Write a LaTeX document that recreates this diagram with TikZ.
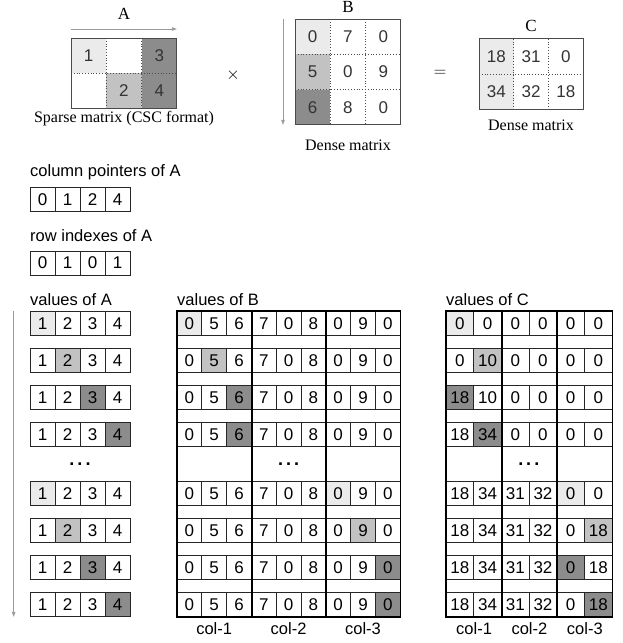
\documentclass[tikz,border=0pt]{standalone}
\usepackage{fontspec}
\setmainfont{Liberation Serif}
\setsansfont{Liberation Sans}
\usetikzlibrary{arrows.meta,positioning}
\definecolor{CellLight}{HTML}{EBEBEB}
\definecolor{CellMid}{HTML}{C2C2C2}
\definecolor{CellDark}{HTML}{8C8C8C}
\definecolor{EdgeGray}{HTML}{4A4A4A}
\definecolor{ArrowGray}{HTML}{9A9A9A}

\begin{document}
\begin{tikzpicture}[x=1pt, y=-1pt,
  mcell/.style={minimum width=35.3pt, minimum height=35.3pt, inner sep=0pt, outer sep=0pt, text=black!80, font=\sffamily\fontsize{17}{17}\selectfont},
  vcell/.style={draw=black!85, line width=0.7pt, minimum width=25pt, minimum height=24pt, inner sep=0pt, font=\sffamily\fontsize{17}{17}\selectfont},
  title/.style={font=\fontsize{17}{17}\selectfont, inner sep=0pt},
  caption/.style={font=\fontsize{16}{16}\selectfont, inner sep=0pt},
  lbl/.style={font=\sffamily\fontsize{16.5}{16.5}\selectfont, anchor=west, inner sep=0pt},
  collbl/.style={font=\sffamily\fontsize{16.5}{16.5}\selectfont, inner sep=0pt},
  dots/.style={font=\sffamily\bfseries\fontsize{18}{18}\selectfont, inner sep=0pt},
  group/.style={line width=1.8pt, black},
  grid/.style={dotted, line width=0.8pt, black!70},
  frame/.style={draw=EdgeGray, line width=1pt},
  dir/.style={-{Triangle[length=5pt,width=3.5pt]}, ArrowGray, line width=0.8pt}
]
\useasboundingbox (0,0) rectangle (623,643);

% sparse matrix A
\node[mcell, fill=CellLight] (A11) at (88.65,55.65) {1};
\node[mcell, right=0pt of A11] (A12) {};
\node[mcell, fill=CellDark, right=0pt of A12] (A13) {3};
\node[mcell, below=0pt of A11] (A21) {};
\node[mcell, fill=CellMid, right=0pt of A21] (A22) {2};
\node[mcell, fill=CellDark, right=0pt of A22] (A23) {4};
\draw[grid] (A11.north east) -- (A21.south east);
\draw[grid] (A12.north east) -- (A22.south east);
\draw[grid] (A11.south west) -- (A13.south east);
\draw[frame] (A11.north west) rectangle (A23.south east);
\draw[dir] ([yshift=9pt]A11.north west) -- ([yshift=9pt]A13.north east);
\node[title] (Atitle) at (124,14) {A};
\node[caption] (Acap) at (124,119) {Sparse matrix (CSC format)};
\node[title] (times) at (233,75) {$\times$};

% dense matrix B
\node[mcell, fill=CellLight] (B11) at (312.65,36.65) {0};
\node[mcell, right=0pt of B11] (B12) {7};
\node[mcell, right=0pt of B12] (B13) {0};
\node[mcell, fill=CellMid, below=0pt of B11] (B21) {5};
\node[mcell, right=0pt of B21] (B22) {0};
\node[mcell, right=0pt of B22] (B23) {9};
\node[mcell, fill=CellDark, below=0pt of B21] (B31) {6};
\node[mcell, right=0pt of B31] (B32) {8};
\node[mcell, right=0pt of B32] (B33) {0};
\draw[grid] (B11.north east) -- (B31.south east);
\draw[grid] (B12.north east) -- (B32.south east);
\draw[grid] (B11.south west) -- (B13.south east);
\draw[grid] (B21.south west) -- (B23.south east);
\draw[frame] (B11.north west) rectangle (B33.south east);
\draw[dir] ([xshift=-12pt]B11.north west) -- ([xshift=-12pt]B31.south west);
\node[title] (Btitle) at (348,7) {B};
\node[caption] (Bcap) at (348,145) {Dense matrix};
\node[title] (equals) at (440,73) {$=$};

% dense matrix C
\node[mcell, minimum width=34.7pt, fill=CellLight] (C11) at (496.35,56.5) {18};
\node[mcell, minimum width=34.7pt, right=0pt of C11] (C12) {31};
\node[mcell, minimum width=34.7pt, right=0pt of C12] (C13) {0};
\node[mcell, minimum width=34.7pt, fill=CellLight, below=0pt of C11] (C21) {34};
\node[mcell, minimum width=34.7pt, right=0pt of C21] (C22) {32};
\node[mcell, minimum width=34.7pt, right=0pt of C22] (C23) {18};
\draw[grid] (C11.north east) -- (C21.south east);
\draw[grid] (C12.north east) -- (C22.south east);
\draw[grid] (C11.south west) -- (C13.south east);
\draw[frame] (C11.north west) rectangle (C23.south east);
\node[title] (Ctitle) at (531,26) {C};
\node[caption] (Ccap) at (531,125) {Dense matrix};

% CSC arrays
\node[lbl] (cplbl) at (30,172) {column pointers of A};
\foreach \v [count=\c] in {0,1,2,4}
  \node[vcell] (cp\c) at (17.5+25*\c,199.5) {\v};
\node[lbl] (rilbl) at (30,236) {row indexes of A};
\foreach \v [count=\c] in {0,1,0,1}
  \node[vcell] (ri\c) at (17.5+25*\c,263) {\v};

% values, step by step
\node[lbl] (avlbl) at (30,300) {values of A};
\node[lbl] (bvlbl) at (177,300) {values of B};
\node[lbl] (cvlbl) at (446,300) {values of C};

\foreach \r/\yy/\hl/\sh in {1/323.5/1/CellLight, 2/360.5/2/CellMid, 3/397.5/3/CellDark, 4/434.5/4/CellDark,
    5/493.5/1/CellLight, 6/530.5/2/CellMid, 7/567.5/3/CellDark, 8/604.5/4/CellDark}
  \foreach \v [count=\c] in {1,2,3,4} {
    \ifnum\c=\hl\relax \def\fc{\sh}\else \def\fc{white}\fi
    \node[vcell, fill=\fc] (a\r-\c) at (17.5+25*\c,\yy) {\v};
  }

\foreach \r/\yy/\hl/\sh in {1/323.5/1/CellLight, 2/360.5/2/CellMid, 3/397.5/3/CellDark, 4/434.5/3/CellDark,
    5/493.5/7/CellLight, 6/530.5/8/CellMid, 7/567.5/9/CellDark, 8/604.5/9/CellDark}
  \foreach \v [count=\c] in {0,5,6,7,0,8,0,9,0} {
    \ifnum\c=\hl\relax \def\fc{\sh}\else \def\fc{white}\fi
    \node[vcell, minimum width=24.8pt, fill=\fc] (b\r-\c) at (164.6+24.8*\c,\yy) {\v};
  }

\foreach \r/\yy/\hl/\sh/\vals in {1/323.5/1/CellLight/{0,0,0,0,0,0}, 2/360.5/2/CellMid/{0,10,0,0,0,0},
    3/397.5/1/CellDark/{18,10,0,0,0,0}, 4/434.5/2/CellDark/{18,34,0,0,0,0},
    5/493.5/5/CellLight/{18,34,31,32,0,0}, 6/530.5/6/CellMid/{18,34,31,32,0,18},
    7/567.5/5/CellDark/{18,34,31,32,0,18}, 8/604.5/6/CellDark/{18,34,31,32,0,18}}
  \foreach \v [count=\c] in \vals {
    \ifnum\c=\hl\relax \def\fc{\sh}\else \def\fc{white}\fi
    \node[vcell, minimum width=27.7pt, fill=\fc] (c\r-\c) at (432.15+27.7*\c,\yy) {\v};
  }

% column groups
\draw[group] (b1-1.north west) rectangle (b8-9.south east);
\draw[group] (b1-3.north east) -- (b8-3.south east);
\draw[group] (b1-6.north east) -- (b8-6.south east);
\draw[group] (c1-1.north west) rectangle (c8-6.south east);
\draw[group] (c1-2.north east) -- (c8-2.south east);
\draw[group] (c1-4.north east) -- (c8-4.south east);

\node[dots] (adots) at (80,464) {.\hspace{3pt}.\hspace{3pt}.};
\node[dots] (bdots) at (b4-5 |- adots) {.\hspace{3pt}.\hspace{3pt}.};
\node[dots] (cdots) at (c4-4.west |- adots) {.\hspace{3pt}.\hspace{3pt}.};

\node[collbl, below=5pt of b8-2] (bcol1) {col-1};
\node[collbl, below=5pt of b8-5] (bcol2) {col-2};
\node[collbl, below=5pt of b8-8] (bcol3) {col-3};
\node[collbl, below=5pt of c8-1.south east] (ccol1) {col-1};
\node[collbl, below=5pt of c8-3.south east] (ccol2) {col-2};
\node[collbl, below=5pt of c8-5.south east] (ccol3) {col-3};

\draw[dir] ([xshift=-16pt]a1-1.north west) -- ([xshift=-16pt]a8-1.south west);
\end{tikzpicture}
\end{document}
